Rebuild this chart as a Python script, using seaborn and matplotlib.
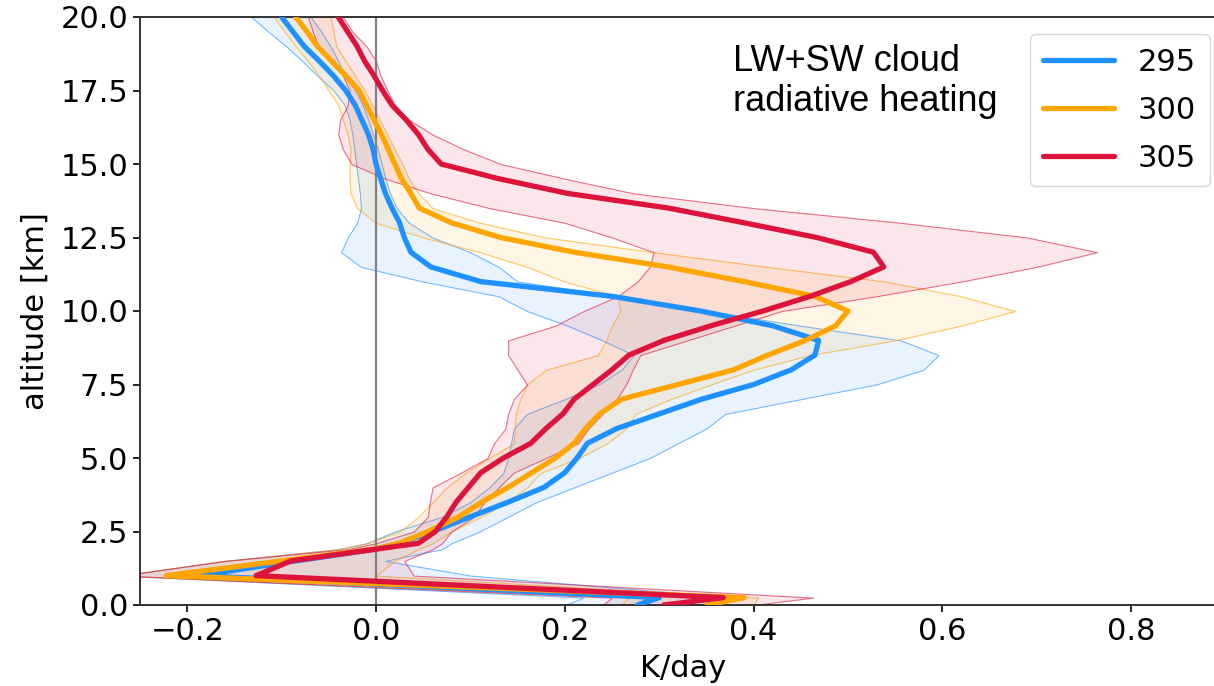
import numpy as np
import pandas as pd
import matplotlib
matplotlib.use("Agg")
import matplotlib.pyplot as plt
from matplotlib.colors import to_rgba
from matplotlib.lines import Line2D
import seaborn as sns

# ---------------- data ----------------
ALT = [0.0, 0.25, 1.0, 1.5, 1.9, 2.1, 2.5, 3.0, 3.5, 4.0, 4.5, 5.0, 5.5, 6.0, 6.5,
       7.0, 7.5, 8.0, 8.5, 9.0, 9.5, 10.0, 10.5, 11.0, 11.5, 12.0, 12.5, 13.0,
       13.5, 14.0, 14.5, 15.0, 15.5, 16.0, 16.5, 17.0, 17.5, 18.0, 18.5, 19.0,
       19.5, 20.0]

SST_LABELS = ["295", "300", "305"]

MEAN_295 = [0.277, 0.30, -0.187, -0.085, 0.0, 0.025, 0.06, 0.10, 0.14, 0.178, 0.20,
            0.213, 0.224, 0.255, 0.30, 0.345, 0.40, 0.44, 0.465, 0.469, 0.42, 0.344,
            0.25, 0.111, 0.058, 0.037, 0.03, 0.025, 0.017, 0.01, 0.005, 0.0, -0.003,
            -0.008, -0.015, -0.022, -0.032, -0.045, -0.06, -0.076, -0.088, -0.1]
LO_295 = [0.20, 0.22, -0.27, -0.16, -0.04, -0.01, 0.02, 0.07, 0.10, 0.12, 0.135,
          0.14, 0.143, 0.146, 0.16, 0.20, 0.236, 0.26, 0.273, 0.24, 0.203, 0.16,
          0.13, 0.05, -0.016, -0.037, -0.03, -0.02, -0.016, -0.017, -0.019, -0.021,
          -0.023, -0.025, -0.028, -0.033, -0.045, -0.062, -0.078, -0.095, -0.114, -0.132]
HI_295 = [0.31, 0.38, 0.10, 0.01, 0.07, 0.08, 0.11, 0.14, 0.17, 0.21, 0.25, 0.29,
          0.32, 0.35, 0.37, 0.45, 0.53, 0.58, 0.596, 0.556, 0.45, 0.35, 0.26, 0.15,
          0.13, 0.10, 0.06, 0.035, 0.022, 0.015, 0.01, 0.006, 0.002, -0.003, -0.008,
          -0.014, -0.022, -0.033, -0.04, -0.048, -0.058, -0.069]

MEAN_300 = [0.351, 0.39, -0.222, -0.10, -0.002, 0.025, 0.055, 0.088, 0.112, 0.14,
            0.165, 0.19, 0.21, 0.222, 0.237, 0.26, 0.32, 0.379, 0.415, 0.455, 0.487,
            0.50, 0.465, 0.39, 0.309, 0.21, 0.132, 0.08, 0.046, 0.037, 0.027, 0.02,
            0.013, 0.006, -0.002, -0.01, -0.018, -0.032, -0.047, -0.062, -0.073, -0.085]
LO_300 = [0.26, 0.267, -0.27, -0.16, -0.04, -0.01, 0.025, 0.045, 0.06, 0.075, 0.095,
          0.12, 0.146, 0.147, 0.148, 0.153, 0.16, 0.18, 0.235, 0.244, 0.25, 0.259,
          0.256, 0.20, 0.16, 0.11, 0.05, 0.0, -0.02, -0.027, -0.028, -0.028, -0.027,
          -0.03, -0.035, -0.04, -0.05, -0.06, -0.072, -0.085, -0.097, -0.108]
HI_300 = [0.40, 0.405, 0.0, 0.02, 0.045, 0.06, 0.08, 0.111, 0.14, 0.16, 0.175, 0.215,
          0.245, 0.265, 0.275, 0.312, 0.355, 0.40, 0.46, 0.55, 0.62, 0.677, 0.62,
          0.54, 0.415, 0.294, 0.18, 0.11, 0.06, 0.045, 0.035, 0.028, 0.02, 0.012,
          0.004, -0.004, -0.012, -0.022, -0.032, -0.042, -0.045, -0.048]

MEAN_305 = [0.305, 0.368, -0.127, -0.09, 0.0, 0.045, 0.063, 0.075, 0.085, 0.098,
            0.111, 0.135, 0.164, 0.18, 0.198, 0.21, 0.23, 0.25, 0.268, 0.305, 0.355,
            0.41, 0.46, 0.503, 0.538, 0.527, 0.467, 0.39, 0.31, 0.203, 0.13, 0.069,
            0.055, 0.045, 0.032, 0.017, 0.007, -0.002, -0.012, -0.02, -0.03, -0.04]
LO_305 = [0.24, 0.25, -0.27, -0.16, -0.03, 0.0, 0.04, 0.055, 0.057, 0.06, 0.09, 0.118,
          0.125, 0.137, 0.14, 0.146, 0.16, 0.15, 0.14, 0.14, 0.19, 0.22, 0.256, 0.277,
          0.29, 0.294, 0.25, 0.20, 0.12, 0.058, 0.01, -0.026, -0.035, -0.04, -0.038,
          -0.03, -0.028, -0.035, -0.048, -0.061, -0.067, -0.072]
HI_305 = [0.40, 0.463, 0.04, 0.03, 0.06, 0.07, 0.08, 0.104, 0.115, 0.13, 0.146, 0.18,
          0.214, 0.225, 0.24, 0.255, 0.265, 0.272, 0.28, 0.33, 0.38, 0.43, 0.53, 0.62,
          0.70, 0.764, 0.69, 0.556, 0.40, 0.273, 0.20, 0.132, 0.093, 0.06, 0.035,
          0.02, 0.012, 0.005, 0.0, -0.01, -0.025, -0.035]

COLORS = {"295": "#1E90FF", "300": "#FFA500", "305": "#DC143C"}

# ---------------- figure ----------------
sns.set_style("ticks")
plt.rcParams["font.family"] = ["DejaVu Sans"]
plt.rcParams["text.color"] = "black"
plt.rcParams["axes.labelcolor"] = "black"
plt.rcParams["xtick.color"] = "black"
plt.rcParams["ytick.color"] = "black"

W, H = 1214, 686
fig = plt.figure(figsize=(W / 100, H / 100), dpi=100)
ax = fig.add_axes([140 / W, 81 / H, (1225.5 - 140) / W, (605 - 17) / H])

means = {"295": MEAN_295, "300": MEAN_300, "305": MEAN_305}
los = {"295": LO_295, "300": LO_300, "305": LO_305}
his = {"295": HI_295, "300": HI_300, "305": HI_305}

rows = []
for s in SST_LABELS:
    for a, v in zip(ALT, means[s]):
        rows.append({"altitude": a, "heating": v, "SST": s})
df = pd.DataFrame(rows)

# shaded ranges
for s in SST_LABELS:
    ax.fill_betweenx(ALT, los[s], his[s],
                     facecolor=to_rgba(COLORS[s], 0.10),
                     edgecolor=to_rgba(COLORS[s], 0.6),
                     linewidth=0.8, zorder=1)

ax.axvline(0, color="grey", linewidth=1.6, zorder=1.5)

sns.lineplot(data=df, x="heating", y="altitude", hue="SST", hue_order=SST_LABELS,
             palette=COLORS, orient="y", sort=False, estimator=None,
             linewidth=3.8, legend=False, ax=ax, zorder=3)

ax.set_xlim(-0.25, 0.9)
ax.set_ylim(0, 20)
ax.set_xticks([-0.2, 0.0, 0.2, 0.4, 0.6, 0.8])
ax.set_yticks([0, 2.5, 5, 7.5, 10, 12.5, 15, 17.5, 20])
ax.set_yticklabels(["0.0", "2.5", "5.0", "7.5", "10.0", "12.5", "15.0", "17.5", "20.0"])
ax.tick_params(labelsize=22, length=5, width=1.2, colors="black")
ax.set_xlabel("K/day", fontsize=22, labelpad=6)
ax.set_ylabel("altitude [km]", fontsize=22, labelpad=8)
for sp in ax.spines.values():
    sp.set_linewidth(1.4)
    sp.set_color("#333333")

handles = [Line2D([0], [0], color=COLORS[s], linewidth=3.8) for s in SST_LABELS]
leg = ax.legend(handles, SST_LABELS, loc="upper right",
                bbox_to_anchor=(1210 / W, (H - 34) / H), bbox_transform=fig.transFigure,
                borderaxespad=0.0,
                fontsize=22, handlelength=2.3, frameon=True, fancybox=True,
                borderpad=0.45, labelspacing=0.62, handletextpad=0.8)
leg.get_frame().set_edgecolor("#cccccc")

fig.text(733 / W, (H - 44) / H, "LW+SW cloud\nradiative heating",
         fontsize=26, family="Liberation Sans", va="top", ha="left",
         color="black", linespacing=1.2)

fig.savefig("out.png", dpi=100)
